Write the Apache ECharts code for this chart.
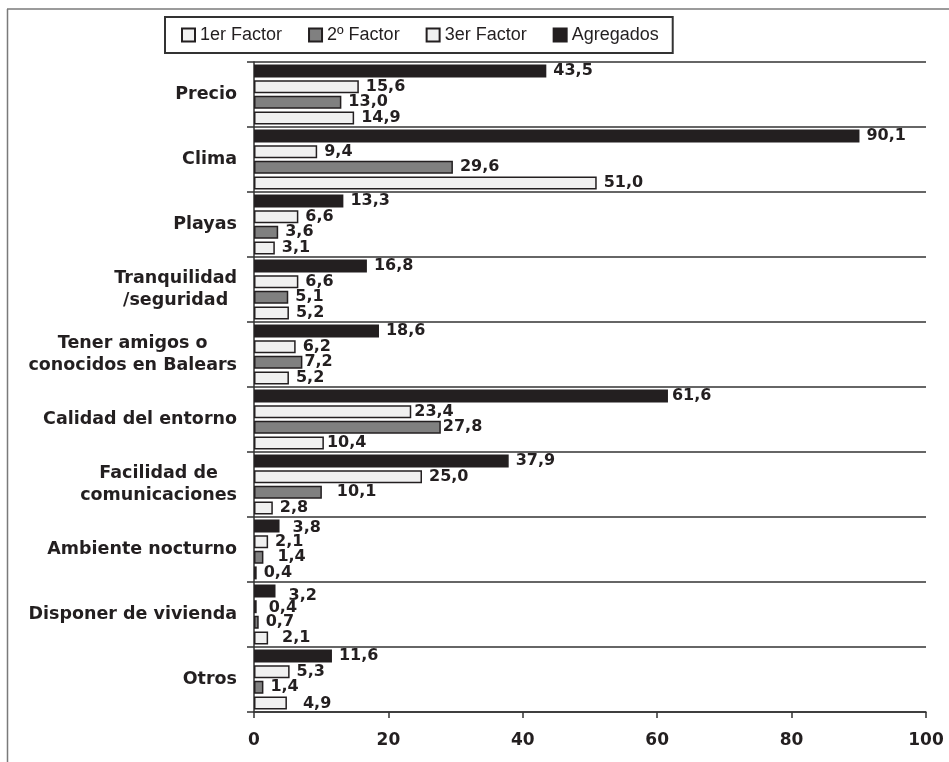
<!DOCTYPE html>
<html>
<head>
<meta charset="utf-8">
<script src="https://cdn.jsdelivr.net/npm/echarts@6/dist/echarts.min.js"></script>
<style>
  html,body{margin:0;padding:0;background:#fff;}
  #chart{width:949px;height:762px;}
</style>
</head>
<body>
<div id="chart"></div>
<script>
'use strict';

/* ---------- data ---------- */
const CATEGORIES = [
  'Precio', 'Clima', 'Playas', 'Tranquilidad\n/seguridad',
  'Tener amigos o\nconocidos en Balears', 'Calidad del entorno',
  'Facilidad de\ncomunicaciones', 'Ambiente nocturno',
  'Disponer de vivienda', 'Otros',
];
const AGREGADOS = [43.5, 90.1, 13.3, 16.8, 18.6, 61.6, 37.9, 3.8, 3.2, 11.6];
const FACTOR_1  = [15.6, 9.4, 6.6, 6.6, 6.2, 23.4, 25.0, 2.1, 0.4, 5.3];
const FACTOR_2  = [13.0, 29.6, 3.6, 5.1, 7.2, 27.8, 10.1, 1.4, 0.7, 1.4];
const FACTOR_3  = [14.9, 51.0, 3.1, 5.2, 5.2, 10.4, 2.8, 0.4, 2.1, 4.9];
const X_TICKS = {min: 0, max: 100, step: 20};
const LEGEND_ORDER = ['1er Factor', '2º Factor', '3er Factor', 'Agregados'];

/* ---------- look ---------- */
const C = {ink: '#231f20', axis: '#333333', light: '#f0f0f0', gray: '#808080', frame: '#7a7a7a'};
const BOLD = '"DejaVu Sans", sans-serif';
const SANS = '"Liberation Sans", Arial, sans-serif';

// small hand nudges where the printed labels sit away from their bars
const LABEL_NUDGE = {
  'Agregados|7': [6, 2], '2º Factor|7': [7, 0],
  'Agregados|8': [6, 5], '1er Factor|8': [5, 1], '3er Factor|8': [7, 0],
  '3er Factor|9': [9, 1], '2º Factor|6': [8, 0], '2º Factor|4': [-5, 0],
  'Agregados|5': [-3, 0], '1er Factor|5': [-4, 0], '2º Factor|5': [-5, 0], '3er Factor|5': [-4, 0],
};

const fmt = v => v.toFixed(1).replace('.', ',');

function barSeries(name, values, fill){
  return {
    name, type: 'bar', barWidth: 13, barGap: '20%',
    data: values.map((v, i) => {
      const nudge = LABEL_NUDGE[name + '|' + i];
      return nudge ? {value: v, label: {offset: nudge}} : v;
    }),
    itemStyle: {color: fill, borderColor: C.ink, borderWidth: 1.5},
    emphasis: {disabled: true},
    label: {
      show: true, position: 'right', distance: 7,
      formatter: p => fmt(p.value),
      color: C.ink, fontFamily: BOLD, fontWeight: 'bold', fontSize: 16,
    },
  };
}

const chart = echarts.init(document.getElementById('chart'));
chart.setOption({
  backgroundColor: '#fff',
  animation: false,
  legend: {
    data: LEGEND_ORDER,
    left: 165, top: 17,
    padding: [8, 14, 8, 16],
    itemGap: 26, itemWidth: 13, itemHeight: 13, icon: 'rect',
    borderColor: C.axis, borderWidth: 2,
    textStyle: {color: C.ink, fontFamily: SANS, fontSize: 18, lineHeight: 20},
  },
  grid: {left: 254, right: 23, top: 62, bottom: 50},
  xAxis: {
    type: 'value', min: X_TICKS.min, max: X_TICKS.max, interval: X_TICKS.step,
    axisLine: {show: true, lineStyle: {color: C.axis, width: 1.5}},
    axisTick: {show: true, length: 6, lineStyle: {color: C.axis, width: 1.5}},
    splitLine: {show: false},
    axisLabel: {margin: 20, color: C.ink, fontFamily: BOLD, fontWeight: 'bold', fontSize: 17},
  },
  yAxis: {
    type: 'category', data: CATEGORIES, inverse: true,
    axisLine: {show: true, lineStyle: {color: C.axis, width: 1.5}},
    axisTick: {show: true, length: 7, lineStyle: {color: C.axis, width: 1.5}},
    splitLine: {show: true, lineStyle: {color: C.axis, width: 1.5}},
    axisLabel: {
      margin: 17, interval: 0,
      formatter: v => v.split('\n').map(s => '{c|' + s + '}').join('\n'),
      rich: {c: {align: 'center', color: C.ink, fontFamily: BOLD, fontWeight: 'bold', fontSize: 17.5, lineHeight: 22}},
    },
  },
  graphic: [
    {type: 'line', shape: {x1: 7, y1: 9, x2: 949, y2: 9}, style: {stroke: C.frame, lineWidth: 1.5}},
    {type: 'line', shape: {x1: 7.5, y1: 9, x2: 7.5, y2: 762}, style: {stroke: C.frame, lineWidth: 1.5}},
  ],
  series: [
    barSeries('Agregados', AGREGADOS, C.ink),
    barSeries('1er Factor', FACTOR_1, C.light),
    barSeries('2º Factor', FACTOR_2, C.gray),
    barSeries('3er Factor', FACTOR_3, C.light),
  ],
});
</script>
</body>
</html>
